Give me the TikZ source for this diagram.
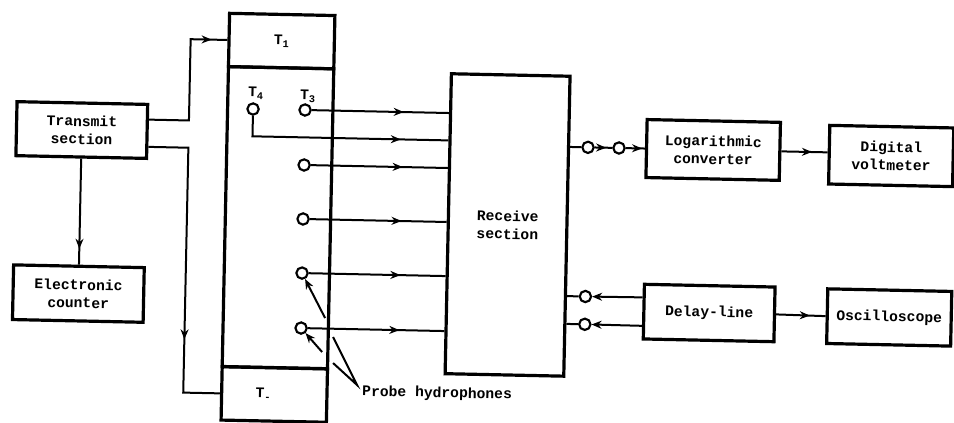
\documentclass[tikz,border=0pt]{standalone}
\usepackage{fontspec}
\setmainfont{Liberation Mono}
\usetikzlibrary{arrows.meta,decorations.markings}
\tikzset{
	block/.style={draw,line width=2.4pt,inner sep=0pt,align=center,font=\bfseries\fontsize{11}{13.5}\selectfont},
	probe/.style={draw,circle,line width=1.6pt,fill=white,inner sep=0pt,minimum size=8.5pt},
	lbl/.style={inner sep=0pt,font=\bfseries\fontsize{11}{13.5}\selectfont},
	wire/.style={line width=1.5pt},
	midtip/.style={postaction={decorate},decoration={markings,mark=at position #1 with {\arrow{>}}}}
}
\begin{document}
\begin{tikzpicture}[>={Stealth[length=7.5pt,width=6pt]},x=0.75pt,y=-0.75pt]
	\useasboundingbox (0,0) rectangle (954,423);
	\begin{scope}[transform canvas={rotate=-1.2}]
		% blocks
		\node[block,minimum width=98pt,minimum height=40.5pt] (transmit) at (84.5,128.3) {Transmit\\section};
		\node[block,minimum width=98pt,minimum height=41pt] (counter) at (84.5,291.9) {Electronic\\counter};
		\node[block,minimum width=79pt,minimum height=40pt] (tone) at (282.5,35.2) {T\textsubscript{1}};
		\node[block,minimum width=79pt,minimum height=225pt] (tank) at (282.5,211.8) {};
		\node[block,minimum width=79pt,minimum height=40pt] (tminus) at (282.5,388.7) {\hspace*{-16pt}T\textsubscript{-}};
		\node[block,minimum width=89pt,minimum height=225pt] (receive) at (512.2,214.3) {Receive\\section};
		\node[block,minimum width=100pt,minimum height=43.5pt] (log) at (716.2,135) {Logarithmic\\converter};
		\node[block,minimum width=93pt,minimum height=44pt] (digital) at (894.3,137.3) {Digital\\voltmeter};
		\node[block,minimum width=98pt,minimum height=41pt] (delay) at (715.6,298.1) {Delay-line};
		\node[block,minimum width=93pt,minimum height=41pt] (scope) at (895.7,298.8) {Oscilloscope};

		% probes in the tank
		\node[probe] (pa) at (307.3,103.6) {};
		\node[probe] (pb) at (255.3,103.7) {};
		\node[probe] (pc) at (307.5,158.6) {};
		\node[probe] (pd) at (307.6,212.6) {};
		\node[probe] (pe) at (307.7,266.7) {};
		\node[probe] (pf) at (307.9,321.7) {};
		\node[lbl,above] (tthree) at (310,96) {T\textsubscript{3}};
		\node[lbl,above] (tfour) at (258,94) {T\textsubscript{4}};

		% switches
		\node[probe] (qa) at (591,135) {};
		\node[probe] (qb) at (622,135) {};
		\node[probe] (ra) at (591.5,284.2) {};
		\node[probe] (rb) at (591.5,312) {};

		\coordinate (apex) at (365.1,377.5);
		\coordinate (ua) at (340.1,330);
		\coordinate (ub) at (331.7,311.2);
		\coordinate (la) at (340.6,356);
		\coordinate (lb) at (329.4,345.2);
		\node[lbl,anchor=west] (hydro) at (370.2,384.4) {Probe hydrophones};

		% transmit side
		\draw[wire,midtip=.9] (transmit.10) -- ++(40,0) |- (tone.west);
		\draw[wire,midtip=.72] (transmit.-13) -- ++(40,0) |- (tminus.west);
		\draw[wire,midtip=.85] (transmit.south) -- (counter.north);

		% receive side
		\draw[wire,midtip=.67] (pa) -- (pa -| receive.west);
		\draw[wire,midtip=.78] (pb) |- (receive.west |- 0,131);
		\draw[wire,midtip=.67] (pc) -- (pc -| receive.west);
		\draw[wire,midtip=.67] (pd) -- (pd -| receive.west);
		\draw[wire,midtip=.67] (pe) -- (pe -| receive.west);
		\draw[wire,midtip=.67] (pf) -- (pf -| receive.west);

		\draw[wire] (receive.east |- qa) -- (qa);
		\draw[wire,midtip=.65] (qa) -- (qb);
		\draw[wire,midtip=.85] (qb) -- (log.west);
		\draw[wire,midtip=.66] (log.east) -- (log.east -| digital.west);
		\draw[wire,->] (delay.168) -- (ra);
		\draw[wire,->] (delay.192) -- (rb);
		\draw[wire] (ra) -- (ra -| receive.east);
		\draw[wire] (rb) -- (rb -| receive.east);
		\draw[wire,midtip=.68] (delay.east) -- (scope.west);

		% leaders to the probes
		\draw[wire] (ua) -- (apex) -- (la);
		\draw[wire,->] (ub) -- (pe);
		\draw[wire,->] (lb) -- (pf);
	\end{scope}
\end{tikzpicture}
\end{document}
